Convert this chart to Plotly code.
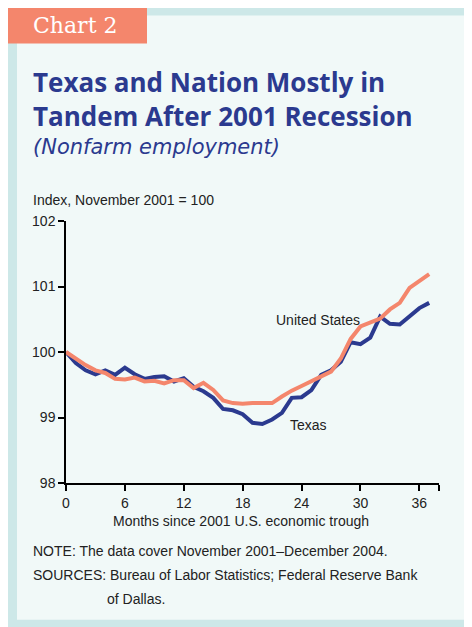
import plotly.graph_objects as go

months = list(range(38))
texas = [100, 99.83, 99.72, 99.66, 99.72, 99.65, 99.76, 99.66, 99.59, 99.62,
         99.63, 99.55, 99.6, 99.47, 99.4, 99.3, 99.13, 99.11, 99.05, 98.92,
         98.9, 98.97, 99.07, 99.3, 99.31, 99.42, 99.65, 99.72, 99.85, 100.15,
         100.12, 100.22, 100.54, 100.43, 100.42, 100.55, 100.67, 100.75]
united_states = [100, 99.9, 99.8, 99.72, 99.68, 99.59, 99.58, 99.61, 99.55, 99.56,
                 99.52, 99.57, 99.57, 99.45, 99.53, 99.42, 99.26, 99.22, 99.21, 99.22,
                 99.22, 99.22, 99.32, 99.41, 99.48, 99.55, 99.62, 99.7, 99.9, 100.2,
                 100.39, 100.45, 100.51, 100.65, 100.75, 100.98, 101.08, 101.19]
x_tickvals = [0, 6, 12, 18, 24, 30, 36, 38]
x_ticktext = ["0", "6", "12", "18", "24", "30", "36", ""]
y_tickvals = [98, 99, 100, 101, 102]

# page body has an 8px default margin: build the figure in page pixels minus that offset
OFF = 8
W, H = 472 - OFF, 627 - OFF
L, R, T, B = 66, 439, 220.7, 483  # plot-area edges in page pixels

NAVY = "#2b3a8f"
SALMON = "#f4866c"
TEAL = "#cde8e8"
PANEL = "#f1f9f8"
SANS = "Liberation Sans, Arial, sans-serif"
TXT = "#222222"


def px(x):
    return (x - L) / (R - L)


def py(y):
    return (B - y) / (B - T)


fig = go.Figure()
fig.add_trace(go.Scatter(x=months, y=texas, mode="lines", name="Texas",
                         line=dict(color=NAVY, width=4), hoverinfo="skip"))
fig.add_trace(go.Scatter(x=months, y=united_states, mode="lines", name="United States",
                         line=dict(color=SALMON, width=4), hoverinfo="skip"))

shapes = [
    dict(type="rect", xref="paper", yref="paper", x0=px(6), x1=px(480), y0=py(640), y1=py(5),
         fillcolor=TEAL, line=dict(width=0), layer="below"),
    dict(type="rect", xref="paper", yref="paper", x0=px(17), x1=px(465), y0=py(620), y1=py(15),
         fillcolor=PANEL, line=dict(width=0), layer="below"),
    dict(type="rect", xref="paper", yref="paper", x0=px(6), x1=px(147), y0=py(43), y1=py(5),
         fillcolor=SALMON, line=dict(width=0), layer="below"),
]

annotations = [
    dict(text="Chart 2", x=px(31), y=py(25), xanchor="left", yanchor="middle",
         font=dict(family="DejaVu Serif, serif", size=22, color="white")),
    dict(text="<b>Texas and Nation Mostly in<br>Tandem After 2001 Recession</b>",
         x=px(31), y=py(62), xanchor="left", yanchor="top", align="left",
         font=dict(family="Open Sans, sans-serif", size=26, color=NAVY)),
    dict(text="<i>(Nonfarm employment)</i>", x=px(31), y=py(147), xanchor="left", yanchor="middle",
         font=dict(family="DejaVu Sans, sans-serif", size=21, color=NAVY)),
    dict(text="Index, November 2001 = 100", x=px(31), y=py(200), xanchor="left", yanchor="middle",
         font=dict(family=SANS, size=14, color=TXT)),
    dict(text="Months since 2001 U.S. economic trough", x=px(241), y=py(521), xanchor="center",
         yanchor="middle", font=dict(family=SANS, size=14, color=TXT)),
    dict(text="NOTE: The data cover November 2001\u2013December 2004.", x=px(31), y=py(551),
         xanchor="left", yanchor="middle", font=dict(family=SANS, size=14, color=TXT)),
    dict(text="SOURCES: Bureau of Labor Statistics; Federal Reserve Bank", x=px(31), y=py(575),
         xanchor="left", yanchor="middle", font=dict(family=SANS, size=14, color=TXT)),
    dict(text="of Dallas.", x=px(105), y=py(599), xanchor="left", yanchor="middle",
         font=dict(family=SANS, size=14, color=TXT)),
    dict(text="United States", x=21.2, y=100.49, xref="x", yref="y", xanchor="left",
         yanchor="middle", font=dict(family=SANS, size=14, color=TXT)),
    dict(text="Texas", x=22.6, y=98.89, xref="x", yref="y", xanchor="left",
         yanchor="middle", font=dict(family=SANS, size=14, color=TXT)),
]
for a in annotations:
    a.setdefault("xref", "paper")
    a.setdefault("yref", "paper")
    a["showarrow"] = False

fig.update_layout(
    width=W, height=H,
    margin=dict(l=L - OFF, r=W - (R - OFF), t=T - OFF, b=H - (B - OFF), pad=0),
    paper_bgcolor="white", plot_bgcolor="rgba(0,0,0,0)",
    showlegend=False,
    shapes=shapes, annotations=annotations,
    xaxis=dict(range=[0, 38], tickvals=x_tickvals, ticktext=x_ticktext,
               showgrid=False, zeroline=False, showline=True, linecolor="black", linewidth=1.5,
               ticks="outside", ticklen=6, tickwidth=1.5, tickcolor="black",
               tickfont=dict(family=SANS, size=14, color=TXT), fixedrange=True),
    yaxis=dict(range=[98, 102], tickvals=y_tickvals,
               showgrid=False, zeroline=False, showline=True, linecolor="black", linewidth=1.5,
               ticks="outside", ticklen=6, tickwidth=1.5, tickcolor="black",
               tickfont=dict(family=SANS, size=14, color=TXT), fixedrange=True),
)

fig.write_html("out.html", config={"displayModeBar": False})
